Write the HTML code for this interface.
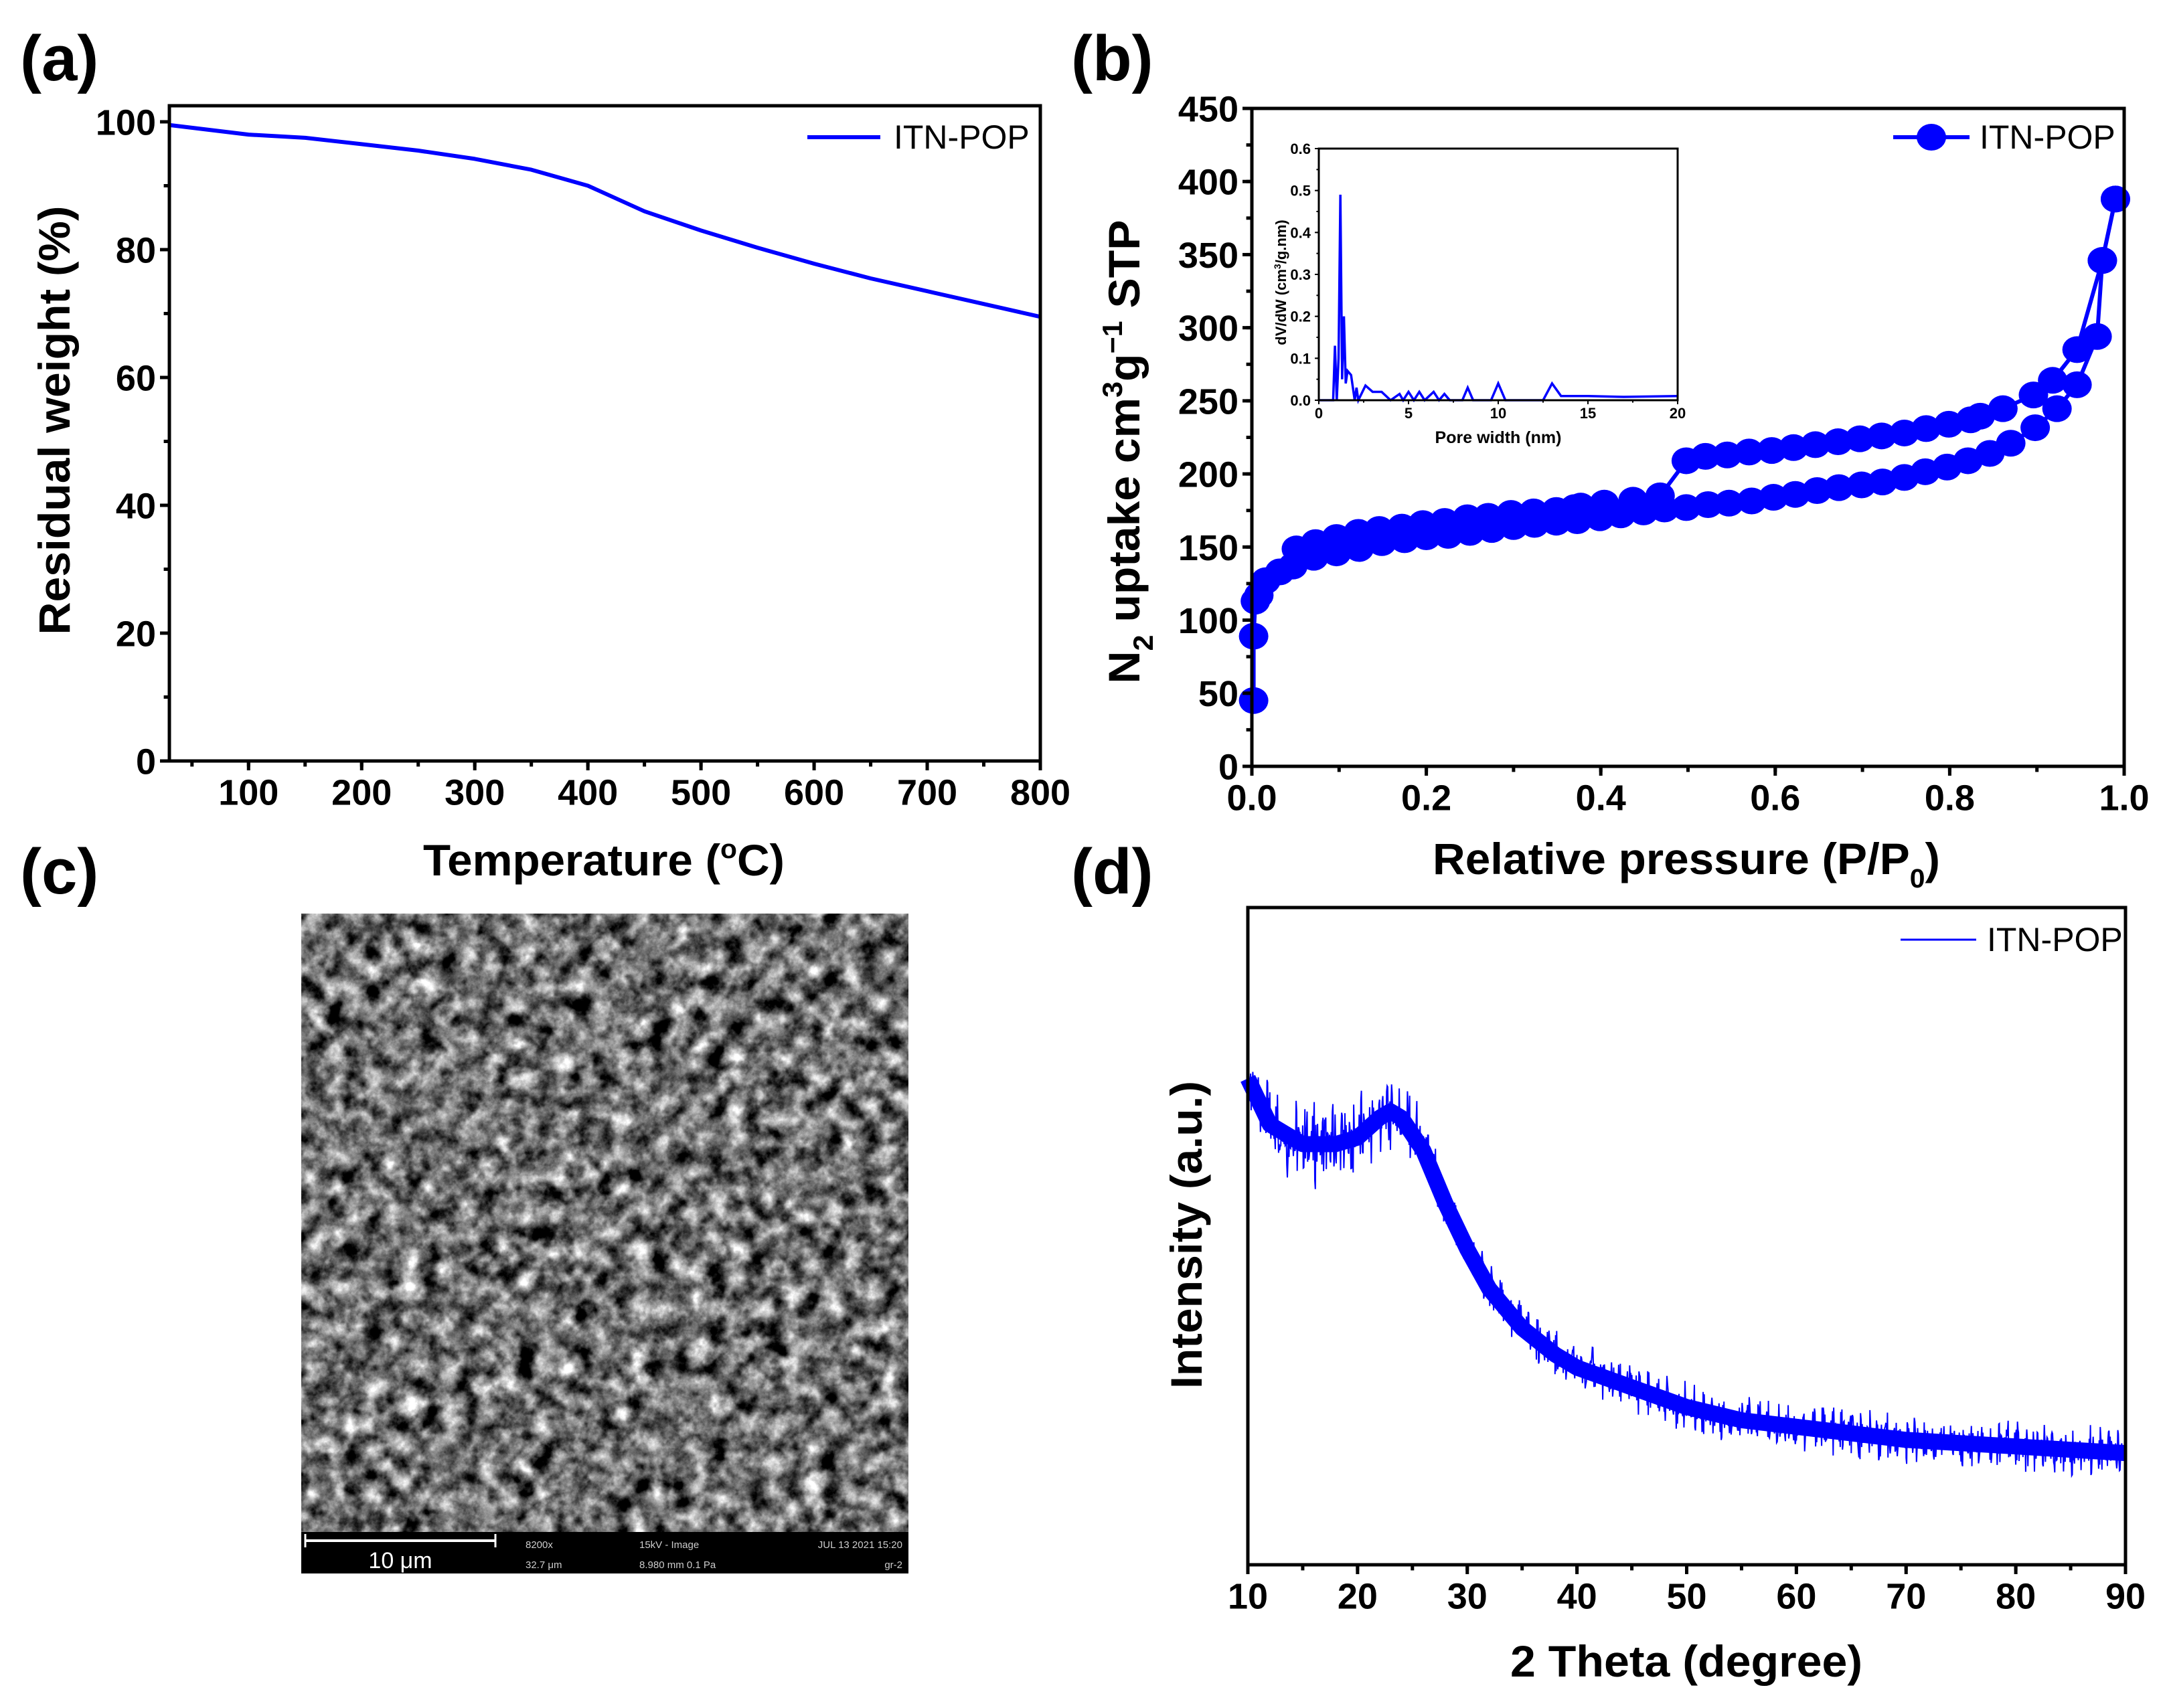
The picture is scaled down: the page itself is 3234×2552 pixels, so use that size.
<!DOCTYPE html>
<html><head><meta charset="utf-8"><style>
html,body{margin:0;padding:0;background:#fff}
svg{display:block}
text{font-family:"Liberation Sans",sans-serif}
.tk{font-family:"Liberation Sans Narrow","Liberation Sans",sans-serif;font-weight:bold;font-size:54px}
.ttl{font-weight:bold;font-size:66px}
.pl{font-weight:bold;font-size:96px}
.lg{font-size:50px}
.itk{font-weight:bold;font-size:22px}
</style></head><body>
<svg id="fig" width="3234" height="2552" viewBox="0 0 3234 2552" xmlns="http://www.w3.org/2000/svg">
<defs>
<filter id="semf" x="0" y="0" width="100%" height="100%" color-interpolation-filters="sRGB">
<feTurbulence type="fractalNoise" baseFrequency="0.035" numOctaves="5" seed="7"/>
<feColorMatrix type="matrix" values="0.33 0.33 0.33 0 0  0.33 0.33 0.33 0 0  0.33 0.33 0.33 0 0  0 0 0 0 1"/>
<feComponentTransfer><feFuncR type="linear" slope="3.0" intercept="-1.05"/><feFuncG type="linear" slope="3.0" intercept="-1.05"/><feFuncB type="linear" slope="3.0" intercept="-1.05"/></feComponentTransfer>
</filter>
</defs>
<g id="pa"></g>
<g id="pb"></g>
<g id="pc">
<rect x="450" y="1365" width="907" height="986" fill="#6e6e6e"/>
<rect x="450" y="1365" width="907" height="924" filter="url(#semf)"/>
<rect x="450" y="2289" width="907" height="62" fill="#000"/>
<line x1="456" y1="2302" x2="740" y2="2302" stroke="#fff" stroke-width="4"/>
<line x1="456" y1="2292" x2="456" y2="2312" stroke="#fff" stroke-width="3"/>
<line x1="740" y1="2292" x2="740" y2="2312" stroke="#fff" stroke-width="3"/>
<text x="598" y="2343" fill="#fff" font-size="34" text-anchor="middle">10 μm</text>
<text x="785" y="2313" fill="#ccc" font-size="15">8200x</text>
<text x="785" y="2343" fill="#ccc" font-size="15">32.7 μm</text>
<text x="955" y="2313" fill="#ccc" font-size="15">15kV - Image</text>
<text x="955" y="2343" fill="#ccc" font-size="15">8.980 mm    0.1 Pa</text>
<text x="1348" y="2313" fill="#ccc" font-size="15" text-anchor="end">JUL 13 2021 15:20</text>
<text x="1348" y="2343" fill="#ccc" font-size="15" text-anchor="end">gr-2</text>
</g>
<g id="pd"></g>
<text class="pl" x="30" y="120">(a)</text>
<text class="pl" x="1600" y="120">(b)</text>
<text class="pl" x="30" y="1335">(c)</text>
<text class="pl" x="1600" y="1335">(d)</text>
</svg>
<script>
// ---- Panel (a) TGA data
var tgaTemp = [30,100,150,200,250,300,350,400,450,500,550,600,650,700,750,800];
var tgaWeight = [99.5,98,97.5,96.5,95.5,94.2,92.5,90,86,83,80.3,77.8,75.5,73.5,71.5,69.5];
var tgaXTicks = [100,200,300,400,500,600,700,800];
var tgaYTicks = [0,20,40,60,80,100];
// ---- Panel (b) isotherm data
var adsP = [0.002,0.002,0.004,0.008,0.016,0.032,0.047,0.071,0.097,0.123,0.149,0.175,0.2,0.225,0.25,0.275,0.3,0.324,0.349,0.373,0.399,0.423,0.449,0.473,0.498,0.523,0.547,0.573,0.598,0.623,0.648,0.673,0.699,0.723,0.748,0.772,0.797,0.821,0.846,0.87,0.898,0.923,0.946,0.969,0.975,0.99];
var adsV = [45,89,113,117,127,133,137,143,146,149,153,155,157,158,160,162,164,165.5,167,168,170,172,174,176,177,179,180,181.5,184,186,188.6,190.6,192.5,194.5,197.6,201.5,204.7,209,214,221,231.6,244.6,261,294,346,388];
var desP = [0.99,0.975,0.946,0.918,0.896,0.861,0.835,0.824,0.799,0.773,0.748,0.722,0.697,0.672,0.646,0.621,0.596,0.57,0.545,0.52,0.498,0.468,0.437,0.404,0.377,0.37,0.349,0.323,0.297,0.271,0.247,0.221,0.196,0.172,0.146,0.122,0.097,0.073,0.051];
var desV = [388,346,285,264,254,244.6,239.5,237,234,231,228,226,224,222,220,218,216,215,213,212,209,185,182,180,178,177,175,174,173,171,170,167.5,166,163.6,162,160,156.5,153,148.7];
var isoXTicks = [0,0.2,0.4,0.6,0.8,1.0];
var isoXLabels = ["0.0","0.2","0.4","0.6","0.8","1.0"];
var isoYTicks = [0,50,100,150,200,250,300,350,400,450];
// inset PSD
var psdW = [0,0.8,0.9,1.0,1.1,1.2,1.3,1.4,1.5,1.6,1.8,2.0,2.1,2.2,2.6,3,3.5,4,4.5,4.7,5,5.3,5.6,5.9,6.4,6.7,7,7.3,8,8.3,8.6,9.6,10,10.4,12.5,13,13.5,15,17,20];
var psdV = [0,0,0.13,0,0.1,0.49,0.05,0.2,0.04,0.07,0.06,0,0.03,0,0.035,0.02,0.02,0,0.015,0,0.02,0,0.02,0,0.02,0,0.015,0,0,0.03,0,0,0.04,0,0,0.04,0.01,0.01,0.008,0.01];
var psdXTicks = [0,5,10,15,20];
var psdYTicks = [0,0.1,0.2,0.3,0.4,0.5,0.6];
// ---- Panel (d) XRD data (relative intensity 0-100)
var xrdTheta = [10,12,15,18,20,22,23,24,26,28,30,32,35,38,40,45,50,55,60,65,70,75,80,85,90];
var xrdInt = [74,67,64,64,65,68,69,68,63,55,48,42,36,32,30,27,24,22,21,20,19,18.5,18,17.5,17];
var xrdXTicks = [10,20,30,40,50,60,70,80,90];

var NS="http://www.w3.org/2000/svg";
function mk(parent,tag,attrs,txt){var e=document.createElementNS(NS,tag);for(var k in attrs)e.setAttribute(k,attrs[k]);if(txt!==undefined)e.textContent=txt;parent.appendChild(e);return e;}
function lin(d0,d1,r0,r1){return function(v){return r0+(v-d0)/(d1-d0)*(r1-r0);};}

function frame(g,L,T,R,B,sw){
  var f=mk(g,'rect',{x:L,y:T,width:R-L,height:B-T,fill:'none',stroke:'#000','stroke-width':sw});
  
  
}
function xAxis(g,sx,B,ticks,labels,minorStep,dmin,dmax,fs,len,cls){
  for(var i=0;i<ticks.length;i++){
    var x=sx(ticks[i]);
    mk(g,'line',{x1:x,y1:B,x2:x,y2:B+len,stroke:'#000','stroke-width':len>10?5:2});
    var t=mk(g,'text',{x:x,y:B+len+fs*0.95,'text-anchor':'middle','class':cls},labels[i]);
    
    
  }
  if(minorStep){for(var v=dmin;v<=dmax+1e-9;v+=minorStep){var x2=sx(v);mk(g,'line',{x1:x2,y1:B,x2:x2,y2:B+len*0.6,stroke:'#000','stroke-width':len>10?5:2});}}
}
function yAxis(g,sy,L,ticks,labels,minorStep,dmin,dmax,fs,len,cls){
  for(var i=0;i<ticks.length;i++){
    var y=sy(ticks[i]);
    mk(g,'line',{x1:L-len,y1:y,x2:L,y2:y,stroke:'#000','stroke-width':len>10?5:2});
    var t=mk(g,'text',{x:L-len-6,y:y+fs*0.36,'text-anchor':'end','class':cls},labels[i]);
    
    
  }
  if(minorStep){for(var v=dmin;v<=dmax+1e-9;v+=minorStep){var y2=sy(v);mk(g,'line',{x1:L-len*0.6,y1:y2,x2:L,y2:y2,stroke:'#000','stroke-width':len>10?5:2});}}
}
function pts(xs,ys,sx,sy){var s=[];for(var i=0;i<xs.length;i++)s.push(sx(xs[i]).toFixed(1)+','+sy(ys[i]).toFixed(1));return s.join(' ');}

// ===== Panel A
(function(){
 var g=document.getElementById('pa');
 var L=253,R=1554,T=158,B=1137;
 var sx=lin(30,800,L,R), sy=lin(0,100,1137,182);
 var line=mk(g,'polyline',{points:pts(tgaTemp,tgaWeight,sx,sy),fill:'none',stroke:'#0000ff','stroke-width':6,'stroke-linejoin':'round'});
 
 
 frame(g,L,T,R,B,5);
 xAxis(g,sx,B,tgaXTicks,tgaXTicks.map(String),50,50,800,54,14,'tk');
 yAxis(g,sy,L,tgaYTicks,tgaYTicks.map(String),10,0,100,54,14,'tk');
 var xt=mk(g,'text',{x:902,y:1308,'text-anchor':'middle','class':'ttl',textLength:540,lengthAdjust:'spacingAndGlyphs'});
 xt.innerHTML='Temperature (<tspan font-size="40" dy="-26">o</tspan><tspan dy="26">C)</tspan>';
 
 
 var yt=mk(g,'text',{x:0,y:0,'text-anchor':'middle','class':'ttl',transform:'translate(104,628) rotate(-90)',textLength:641,lengthAdjust:'spacingAndGlyphs'},'Residual weight (%)');
 
 
 var ll=mk(g,'line',{x1:1206,y1:205,x2:1315,y2:205,stroke:'#0000ff','stroke-width':6});
 
 
 var lt=mk(g,'text',{x:1335,y:222,'class':'lg'},'ITN-POP');
 
 
})();

// ===== Panel B
(function(){
 var g=document.getElementById('pb');
 var L=1870,R=3173,T=162,B=1145;
 var sx=lin(0,1,L,R), sy=lin(0,450,B,T);
 var a=mk(g,'polyline',{points:pts(adsP,adsV,sx,sy),fill:'none',stroke:'#0000ff','stroke-width':6});
 
 
 var d=mk(g,'polyline',{points:pts(desP,desV,sx,sy),fill:'none',stroke:'#0000ff','stroke-width':6});
 
 
 for(var i=0;i<adsP.length;i++){var c=mk(g,'ellipse',{cx:sx(adsP[i]),cy:sy(adsV[i]),rx:22,ry:20,fill:'#0000ff'});
  
  }
 for(var j=0;j<desP.length;j++){var c2=mk(g,'ellipse',{cx:sx(desP[j]),cy:sy(desV[j]),rx:22,ry:20,fill:'#0000ff'});
  
  }
 frame(g,L,T,R,B,5);
 xAxis(g,sx,B,isoXTicks,isoXLabels,0.1,0,1,54,14,'tk');
 yAxis(g,sy,L,isoYTicks,isoYTicks.map(String),25,0,450,54,14,'tk');
 var xt=mk(g,'text',{x:2519,y:1306,'text-anchor':'middle','class':'ttl',textLength:758,lengthAdjust:'spacingAndGlyphs'});
 xt.innerHTML='Relative pressure (P/P<tspan font-size="40" dy="20">0</tspan><tspan dy="-20">)</tspan>';
 
 
 var yt=mk(g,'text',{x:0,y:0,'text-anchor':'middle','class':'ttl',transform:'translate(1702,675) rotate(-90)',textLength:693,lengthAdjust:'spacingAndGlyphs'});
 yt.innerHTML='N<tspan font-size="42" dy="20">2</tspan><tspan dy="-20"> uptake cm</tspan><tspan font-size="42" dy="-26">3</tspan><tspan dy="26">g</tspan><tspan font-size="42" dy="-26">−1</tspan><tspan dy="26"> STP</tspan>';
 
 
 var ll=mk(g,'line',{x1:2828,y1:205,x2:2942,y2:205,stroke:'#0000ff','stroke-width':6});
 
 
 mk(g,'ellipse',{cx:2885,cy:205,rx:22,ry:20,fill:'#0000ff'});
 var lt=mk(g,'text',{x:2957,y:222,'class':'lg'},'ITN-POP');
 
 
 // inset
 var ig=mk(g,'g',{});
 
 
 var iL=1970,iR=2506,iT=222,iB=598;
 var ix=lin(0,20,iL,iR), iy=lin(0,0.6,iB,iT);
 mk(ig,'rect',{x:iL,y:iT,width:iR-iL,height:iB-iT,fill:'#fff'});
 var p=mk(ig,'polyline',{points:pts(psdW,psdV,ix,iy),fill:'none',stroke:'#0000ff','stroke-width':3.5});
 
 
 frame(ig,iL,iT,iR,iB,3);
 xAxis(ig,ix,iB,psdXTicks,psdXTicks.map(String),2.5,0,20,22,6,'itk');
 yAxis(ig,iy,iL,psdYTicks,psdYTicks.map(function(v){return v.toFixed(1);}),0.05,0,0.6,22,6,'itk');
 var it=mk(ig,'text',{x:2238,y:662,'text-anchor':'middle','font-size':25,'font-weight':'bold'},'Pore width (nm)');
 
 
 var iyt=mk(ig,'text',{x:0,y:0,'text-anchor':'middle','font-size':22,'font-weight':'bold',transform:'translate(1921,422) rotate(-90)'});
 iyt.innerHTML='dV/dW (cm<tspan font-size="14" dy="-8">3</tspan><tspan dy="8">/g.nm)</tspan>';
 
 
})();

// ===== Panel D
(function(){
 var g=document.getElementById('pd');
 var L=1864,R=3175,T=1356,B=2338;
 var sx=lin(10,90,L,R), sy=lin(0,100,B,T);
 var band=mk(g,'polyline',{points:pts(xrdTheta,xrdInt,sx,sy),fill:'none',stroke:'#0000ff','stroke-width':24,'stroke-linejoin':'round'});
 
 
 // noisy trace rendered along the interpolated data (visual texture only)
 var s=[],k=0;
 for(var i=0;i<xrdTheta.length-1;i++){
   var x0=xrdTheta[i],x1=xrdTheta[i+1];
   for(var x=x0;x<x1;x+=0.05){
     var v=xrdInt[i]+(xrdInt[i+1]-xrdInt[i])*(x-x0)/(x1-x0);
     k++;
     var n=Math.sin(k*12.9898)*43758.5453; n=n-Math.floor(n)-0.5;
     var amp=(x<28?14:8)*n*(0.6+0.4*Math.sin(k*0.37));
     s.push(sx(x).toFixed(1)+','+sy(v+amp).toFixed(1));
   }
 }
 var tr=mk(g,'polyline',{points:s.join(' '),fill:'none',stroke:'#0000ff','stroke-width':2});
 
 
 frame(g,L,T,R,B,5);
 xAxis(g,sx,B,xrdXTicks,xrdXTicks.map(String),5,15,90,54,14,'tk');
 var xt=mk(g,'text',{x:2519,y:2505,'text-anchor':'middle','class':'ttl',textLength:526,lengthAdjust:'spacingAndGlyphs'},'2 Theta (degree)');
 
 
 var yt=mk(g,'text',{x:0,y:0,'text-anchor':'middle','class':'ttl',transform:'translate(1795,1845) rotate(-90)',textLength:460,lengthAdjust:'spacingAndGlyphs'},'Intensity (a.u.)');
 
 
 var ll=mk(g,'line',{x1:2839,y1:1404,x2:2952,y2:1404,stroke:'#0000ff','stroke-width':3});
 
 
 var lt=mk(g,'text',{x:2968,y:1421,'class':'lg'},'ITN-POP');
 
 
})();
</script>
</body></html>
